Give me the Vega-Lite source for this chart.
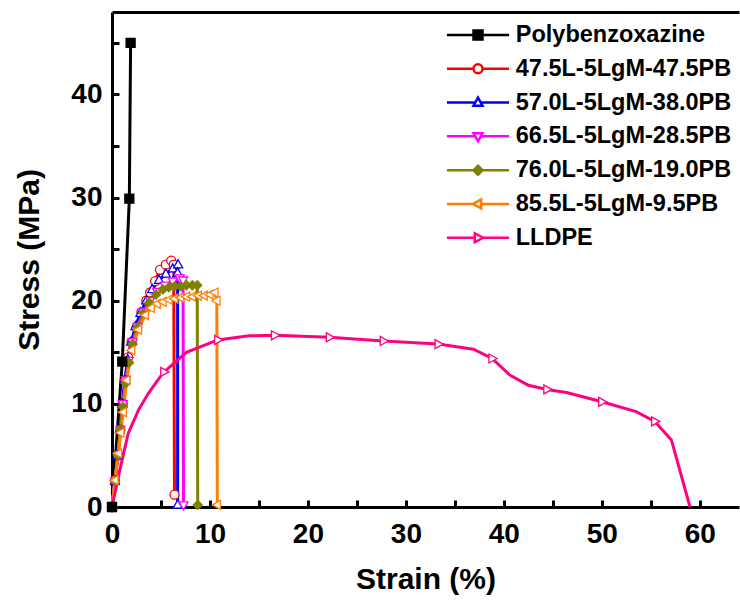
{
  "$schema": "https://vega.github.io/schema/vega-lite/v6.json",
  "width": 627,
  "height": 495,
  "autosize": "none",
  "padding": {"left": 112, "top": 12, "right": 1, "bottom": 99},
  "config": {
    "view": {"stroke": null},
    "font": "Liberation Sans",
    "axis": {
      "grid": false,
      "domainColor": "black",
      "domainWidth": 3,
      "tickColor": "black",
      "tickWidth": 3,
      "labelColor": "black",
      "labelFont": "Liberation Sans",
      "labelFontWeight": "bold",
      "labelFontSize": 28,
      "titleFont": "Liberation Sans",
      "titleFontWeight": "bold",
      "titleFontSize": 30,
      "titleColor": "black"
    }
  },
  "datasets": {
    "curves": [
      {"sample": "Polybenzoxazine", "strain": 0, "stress": 0},
      {"sample": "Polybenzoxazine", "strain": 1.05, "stress": 14.1},
      {"sample": "Polybenzoxazine", "strain": 1.77, "stress": 29.9},
      {"sample": "Polybenzoxazine", "strain": 1.9, "stress": 45.0},

      {"sample": "47.5L-5LgM-47.5PB", "strain": 0, "stress": 0},
      {"sample": "47.5L-5LgM-47.5PB", "strain": 0.3, "stress": 2.6},
      {"sample": "47.5L-5LgM-47.5PB", "strain": 0.6, "stress": 5.0},
      {"sample": "47.5L-5LgM-47.5PB", "strain": 0.85, "stress": 7.5},
      {"sample": "47.5L-5LgM-47.5PB", "strain": 1.1, "stress": 10.0},
      {"sample": "47.5L-5LgM-47.5PB", "strain": 1.35, "stress": 12.3},
      {"sample": "47.5L-5LgM-47.5PB", "strain": 1.65, "stress": 14.5},
      {"sample": "47.5L-5LgM-47.5PB", "strain": 2.0, "stress": 16.0},
      {"sample": "47.5L-5LgM-47.5PB", "strain": 2.5, "stress": 17.4},
      {"sample": "47.5L-5LgM-47.5PB", "strain": 3.0, "stress": 18.9},
      {"sample": "47.5L-5LgM-47.5PB", "strain": 3.5, "stress": 20.0},
      {"sample": "47.5L-5LgM-47.5PB", "strain": 3.9, "stress": 20.8},
      {"sample": "47.5L-5LgM-47.5PB", "strain": 4.4, "stress": 21.9},
      {"sample": "47.5L-5LgM-47.5PB", "strain": 4.9, "stress": 23.0},
      {"sample": "47.5L-5LgM-47.5PB", "strain": 5.5, "stress": 23.5},
      {"sample": "47.5L-5LgM-47.5PB", "strain": 6.05, "stress": 23.9},
      {"sample": "47.5L-5LgM-47.5PB", "strain": 6.3, "stress": 23.5},
      {"sample": "47.5L-5LgM-47.5PB", "strain": 6.38, "stress": 1.2},

      {"sample": "57.0L-5LgM-38.0PB", "strain": 0, "stress": 0},
      {"sample": "57.0L-5LgM-38.0PB", "strain": 0.3, "stress": 2.5},
      {"sample": "57.0L-5LgM-38.0PB", "strain": 0.55, "stress": 5.0},
      {"sample": "57.0L-5LgM-38.0PB", "strain": 0.8, "stress": 7.5},
      {"sample": "57.0L-5LgM-38.0PB", "strain": 1.05, "stress": 10.0},
      {"sample": "57.0L-5LgM-38.0PB", "strain": 1.3, "stress": 12.3},
      {"sample": "57.0L-5LgM-38.0PB", "strain": 1.6, "stress": 14.3},
      {"sample": "57.0L-5LgM-38.0PB", "strain": 1.95, "stress": 16.0},
      {"sample": "57.0L-5LgM-38.0PB", "strain": 2.4, "stress": 17.5},
      {"sample": "57.0L-5LgM-38.0PB", "strain": 2.9, "stress": 18.8},
      {"sample": "57.0L-5LgM-38.0PB", "strain": 3.5, "stress": 20.0},
      {"sample": "57.0L-5LgM-38.0PB", "strain": 4.1, "stress": 21.1},
      {"sample": "57.0L-5LgM-38.0PB", "strain": 4.8, "stress": 22.0},
      {"sample": "57.0L-5LgM-38.0PB", "strain": 5.5, "stress": 22.6},
      {"sample": "57.0L-5LgM-38.0PB", "strain": 6.2, "stress": 23.1},
      {"sample": "57.0L-5LgM-38.0PB", "strain": 6.75, "stress": 23.5},
      {"sample": "57.0L-5LgM-38.0PB", "strain": 6.7, "stress": 22.7},
      {"sample": "57.0L-5LgM-38.0PB", "strain": 6.7, "stress": 0.2},

      {"sample": "66.5L-5LgM-28.5PB", "strain": 0, "stress": 0},
      {"sample": "66.5L-5LgM-28.5PB", "strain": 0.3, "stress": 2.5},
      {"sample": "66.5L-5LgM-28.5PB", "strain": 0.6, "stress": 5.0},
      {"sample": "66.5L-5LgM-28.5PB", "strain": 0.85, "stress": 7.5},
      {"sample": "66.5L-5LgM-28.5PB", "strain": 1.1, "stress": 10.0},
      {"sample": "66.5L-5LgM-28.5PB", "strain": 1.4, "stress": 12.3},
      {"sample": "66.5L-5LgM-28.5PB", "strain": 1.7, "stress": 14.2},
      {"sample": "66.5L-5LgM-28.5PB", "strain": 2.1, "stress": 16.0},
      {"sample": "66.5L-5LgM-28.5PB", "strain": 2.6, "stress": 17.5},
      {"sample": "66.5L-5LgM-28.5PB", "strain": 3.2, "stress": 18.9},
      {"sample": "66.5L-5LgM-28.5PB", "strain": 3.9, "stress": 20.0},
      {"sample": "66.5L-5LgM-28.5PB", "strain": 4.6, "stress": 20.9},
      {"sample": "66.5L-5LgM-28.5PB", "strain": 5.4, "stress": 21.5},
      {"sample": "66.5L-5LgM-28.5PB", "strain": 6.2, "stress": 21.9},
      {"sample": "66.5L-5LgM-28.5PB", "strain": 6.9, "stress": 22.2},
      {"sample": "66.5L-5LgM-28.5PB", "strain": 7.25, "stress": 22.0},
      {"sample": "66.5L-5LgM-28.5PB", "strain": 7.3, "stress": 0.2},

      {"sample": "76.0L-5LgM-19.0PB", "strain": 0, "stress": 0},
      {"sample": "76.0L-5LgM-19.0PB", "strain": 0.3, "stress": 2.5},
      {"sample": "76.0L-5LgM-19.0PB", "strain": 0.6, "stress": 5.0},
      {"sample": "76.0L-5LgM-19.0PB", "strain": 0.85, "stress": 7.5},
      {"sample": "76.0L-5LgM-19.0PB", "strain": 1.1, "stress": 9.7},
      {"sample": "76.0L-5LgM-19.0PB", "strain": 1.4, "stress": 12.0},
      {"sample": "76.0L-5LgM-19.0PB", "strain": 1.75, "stress": 14.0},
      {"sample": "76.0L-5LgM-19.0PB", "strain": 2.1, "stress": 15.8},
      {"sample": "76.0L-5LgM-19.0PB", "strain": 2.6, "stress": 17.4},
      {"sample": "76.0L-5LgM-19.0PB", "strain": 3.2, "stress": 18.8},
      {"sample": "76.0L-5LgM-19.0PB", "strain": 3.8, "stress": 19.8},
      {"sample": "76.0L-5LgM-19.0PB", "strain": 4.5, "stress": 20.6},
      {"sample": "76.0L-5LgM-19.0PB", "strain": 5.2, "stress": 21.1},
      {"sample": "76.0L-5LgM-19.0PB", "strain": 5.8, "stress": 21.3},
      {"sample": "76.0L-5LgM-19.0PB", "strain": 6.4, "stress": 21.4},
      {"sample": "76.0L-5LgM-19.0PB", "strain": 7.0, "stress": 21.4},
      {"sample": "76.0L-5LgM-19.0PB", "strain": 7.6, "stress": 21.5},
      {"sample": "76.0L-5LgM-19.0PB", "strain": 8.2, "stress": 21.5},
      {"sample": "76.0L-5LgM-19.0PB", "strain": 8.7, "stress": 21.5},
      {"sample": "76.0L-5LgM-19.0PB", "strain": 8.75, "stress": 0.2},

      {"sample": "85.5L-5LgM-9.5PB", "strain": 0, "stress": 0},
      {"sample": "85.5L-5LgM-9.5PB", "strain": 0.3, "stress": 2.6},
      {"sample": "85.5L-5LgM-9.5PB", "strain": 0.65, "stress": 5.2},
      {"sample": "85.5L-5LgM-9.5PB", "strain": 0.9, "stress": 7.2},
      {"sample": "85.5L-5LgM-9.5PB", "strain": 1.15, "stress": 9.2},
      {"sample": "85.5L-5LgM-9.5PB", "strain": 1.5, "stress": 12.3},
      {"sample": "85.5L-5LgM-9.5PB", "strain": 2.0, "stress": 15.2},
      {"sample": "85.5L-5LgM-9.5PB", "strain": 2.7, "stress": 17.2},
      {"sample": "85.5L-5LgM-9.5PB", "strain": 3.4, "stress": 18.6},
      {"sample": "85.5L-5LgM-9.5PB", "strain": 4.0, "stress": 19.3},
      {"sample": "85.5L-5LgM-9.5PB", "strain": 4.6, "stress": 19.7},
      {"sample": "85.5L-5LgM-9.5PB", "strain": 5.2, "stress": 19.9},
      {"sample": "85.5L-5LgM-9.5PB", "strain": 5.8, "stress": 20.1},
      {"sample": "85.5L-5LgM-9.5PB", "strain": 6.4, "stress": 20.2},
      {"sample": "85.5L-5LgM-9.5PB", "strain": 7.0, "stress": 20.3},
      {"sample": "85.5L-5LgM-9.5PB", "strain": 7.6, "stress": 20.4},
      {"sample": "85.5L-5LgM-9.5PB", "strain": 8.2, "stress": 20.4},
      {"sample": "85.5L-5LgM-9.5PB", "strain": 8.8, "stress": 20.5},
      {"sample": "85.5L-5LgM-9.5PB", "strain": 9.4, "stress": 20.5},
      {"sample": "85.5L-5LgM-9.5PB", "strain": 10.0, "stress": 20.6},
      {"sample": "85.5L-5LgM-9.5PB", "strain": 10.5, "stress": 20.8},
      {"sample": "85.5L-5LgM-9.5PB", "strain": 10.7, "stress": 20.0},
      {"sample": "85.5L-5LgM-9.5PB", "strain": 10.75, "stress": 0.2},

      {"sample": "LLDPE", "strain": 0, "stress": 0},
      {"sample": "LLDPE", "strain": 0.8, "stress": 3.6},
      {"sample": "LLDPE", "strain": 1.66, "stress": 7.15},
      {"sample": "LLDPE", "strain": 2.7, "stress": 9.4},
      {"sample": "LLDPE", "strain": 3.7, "stress": 11.0},
      {"sample": "LLDPE", "strain": 5.2, "stress": 13.0},
      {"sample": "LLDPE", "strain": 7.6, "stress": 15.0},
      {"sample": "LLDPE", "strain": 10.8, "stress": 16.2},
      {"sample": "LLDPE", "strain": 14.0, "stress": 16.6},
      {"sample": "LLDPE", "strain": 16.6, "stress": 16.65},
      {"sample": "LLDPE", "strain": 22.2, "stress": 16.45},
      {"sample": "LLDPE", "strain": 27.7, "stress": 16.1},
      {"sample": "LLDPE", "strain": 33.3, "stress": 15.8},
      {"sample": "LLDPE", "strain": 36.9, "stress": 15.3},
      {"sample": "LLDPE", "strain": 38.8, "stress": 14.4},
      {"sample": "LLDPE", "strain": 40.6, "stress": 12.8},
      {"sample": "LLDPE", "strain": 42.5, "stress": 11.8},
      {"sample": "LLDPE", "strain": 44.4, "stress": 11.4},
      {"sample": "LLDPE", "strain": 46.4, "stress": 11.1},
      {"sample": "LLDPE", "strain": 50.0, "stress": 10.2},
      {"sample": "LLDPE", "strain": 53.5, "stress": 9.25},
      {"sample": "LLDPE", "strain": 55.4, "stress": 8.3},
      {"sample": "LLDPE", "strain": 57.1, "stress": 6.5},
      {"sample": "LLDPE", "strain": 59.0, "stress": 0}
    ],
    "lldpeMarkers": [
      {"sample": "LLDPE", "strain": 0, "stress": 0},
      {"sample": "LLDPE", "strain": 5.3, "stress": 13.1},
      {"sample": "LLDPE", "strain": 10.8, "stress": 16.2},
      {"sample": "LLDPE", "strain": 16.6, "stress": 16.65},
      {"sample": "LLDPE", "strain": 22.2, "stress": 16.45},
      {"sample": "LLDPE", "strain": 27.7, "stress": 16.1},
      {"sample": "LLDPE", "strain": 33.3, "stress": 15.8},
      {"sample": "LLDPE", "strain": 38.8, "stress": 14.4},
      {"sample": "LLDPE", "strain": 44.4, "stress": 11.4},
      {"sample": "LLDPE", "strain": 50.0, "stress": 10.2},
      {"sample": "LLDPE", "strain": 55.4, "stress": 8.3}
    ]
  },
  "resolve": {"axis": {"x": "independent"}},
  "layer": [
    {
      "data": {"name": "curves"},
      "mark": {"type": "line", "strokeWidth": 3},
      "encoding": {
        "x": {
          "field": "strain", "type": "quantitative",
          "scale": {"domain": [0, 64], "nice": false, "zero": false},
          "axis": {
            "orient": "bottom",
            "title": "Strain (%)",
            "values": [0, 5, 10, 15, 20, 25, 30, 35, 40, 45, 50, 55, 60],
            "labelExpr": "datum.value % 10 === 0 ? datum.label : ''",
            "tickSize": -7,
            "labelPadding": 20,
            "labelFlush": false,
            "labelOverlap": false,
            "titlePadding": 16
          }
        },
        "y": {
          "field": "stress", "type": "quantitative",
          "scale": {"domain": [0, 48], "nice": false},
          "axis": {
            "orient": "left",
            "title": "Stress (MPa)",
            "values": [0, 5, 10, 15, 20, 25, 30, 35, 40, 45],
            "labelExpr": "datum.value % 10 === 0 ? datum.label : ''",
            "tickSize": -7,
            "labelPadding": 17,
            "labelFlush": false,
            "labelOverlap": false,
            "titlePadding": 26
          }
        },
        "stroke": {
          "field": "sample", "type": "nominal",
          "scale": {
            "domain": ["Polybenzoxazine", "47.5L-5LgM-47.5PB", "57.0L-5LgM-38.0PB", "66.5L-5LgM-28.5PB", "76.0L-5LgM-19.0PB", "85.5L-5LgM-9.5PB", "LLDPE"],
            "range": ["#000000", "#ff0000", "#0000ff", "#ff00ff", "#808000", "#ff8000", "#ff0080"]
          },
          "legend": {
            "orient": "none",
            "legendX": 354.25,
            "legendY": 11.2,
            "title": null,
            "padding": 0,
            "labelFont": "Liberation Sans",
            "labelFontWeight": "bold",
            "labelFontSize": 23.5,
            "labelColor": "black",
            "labelLimit": 400,
            "labelOffset": 26,
            "symbolSize": 81,
            "symbolStrokeWidth": 2.5,
            "symbolOffset": 0,
            "rowPadding": 8.8,
            "encode": {
              "symbols": {
                "update": {
                  "shape": {"signal": "['M-6.9,0L-1,0M1,0L6.9,0M-1,-1L1,-1L1,1L-1,1Z','M-6.9,0L-1,0M1,0L6.9,0M-1,0A1,1 0 1,1 1,0A1,1 0 1,1 -1,0Z','M-6.9,0L-0.6,0M0.6,0L6.9,0M0,-1.1L1,0.7L-1,0.7Z','M-6.9,0L-0.6,0M0.6,0L6.9,0M0,1.1L1,-0.7L-1,-0.7Z','M-6.9,0L-1,0M1,0L6.9,0M0,-1L1,0L0,1L-1,0Z','M-6.9,0L-1.1,0M0.7,0L6.9,0M-1.1,0L0.7,-1L0.7,1Z','M-6.9,0L-0.7,0M1.1,0L6.9,0M1.1,0L-0.7,-1L-0.7,1Z'][indexof(['Polybenzoxazine','47.5L-5LgM-47.5PB','57.0L-5LgM-38.0PB','66.5L-5LgM-28.5PB','76.0L-5LgM-19.0PB','85.5L-5LgM-9.5PB','LLDPE'], datum.value)]"},
                  "fill": {"signal": "['#000000','#ffffff','#ffffff','#ffffff','#808000','#ffffff','#ffffff'][indexof(['Polybenzoxazine','47.5L-5LgM-47.5PB','57.0L-5LgM-38.0PB','66.5L-5LgM-28.5PB','76.0L-5LgM-19.0PB','85.5L-5LgM-9.5PB','LLDPE'], datum.value)]"},
                  "opacity": {"value": 1}
                }
              }
            }
          }
        },
        "order": {"value": null}
      }
    },
    {
      "data": {"name": "curves"},
      "transform": [{"filter": "datum.sample !== 'LLDPE' && datum.sample !== 'Polybenzoxazine'"}],
      "mark": {"type": "point", "filled": true, "size": 81, "strokeWidth": 1.3, "opacity": 1},
      "encoding": {
        "x": {"field": "strain", "type": "quantitative", "axis": null},
        "y": {"field": "stress", "type": "quantitative"},
        "stroke": {"field": "sample", "type": "nominal", "legend": null},
        "fill": {
          "field": "sample", "type": "nominal", "legend": null,
          "scale": {
            "domain": ["47.5L-5LgM-47.5PB", "57.0L-5LgM-38.0PB", "66.5L-5LgM-28.5PB", "76.0L-5LgM-19.0PB", "85.5L-5LgM-9.5PB", "LLDPE", "Polybenzoxazine"],
            "range": ["#ffffff", "#ffffff", "#ffffff", "#808000", "#ffffff", "#ffffff", "#000000"]
          }
        },
        "shape": {
          "field": "sample", "type": "nominal", "legend": null,
          "scale": {
            "domain": ["47.5L-5LgM-47.5PB", "57.0L-5LgM-38.0PB", "66.5L-5LgM-28.5PB", "76.0L-5LgM-19.0PB", "85.5L-5LgM-9.5PB", "LLDPE", "Polybenzoxazine"],
            "range": ["M-1,0A1,1 0 1,1 1,0A1,1 0 1,1 -1,0Z", "M0,-1.1L1,0.7H-1Z", "M0,1.1L1,-0.7H-1Z", "M0,-1L1,0L0,1L-1,0Z", "M-1.1,0L0.7,-1V1Z", "M1.1,0L-0.7,-1V1Z", "M-1,-1H1V1H-1Z"]
          }
        }
      }
    },
    {
      "data": {"name": "lldpeMarkers"},
      "mark": {"type": "point", "filled": true, "size": 81, "strokeWidth": 1.3, "opacity": 1},
      "encoding": {
        "x": {"field": "strain", "type": "quantitative", "axis": null},
        "y": {"field": "stress", "type": "quantitative"},
        "stroke": {"field": "sample", "type": "nominal", "legend": null},
        "fill": {"field": "sample", "type": "nominal", "legend": null},
        "shape": {"field": "sample", "type": "nominal", "legend": null}
      }
    },
    {
      "data": {"name": "curves"},
      "transform": [{"filter": "datum.sample === 'Polybenzoxazine'"}],
      "mark": {"type": "point", "filled": true, "size": 81, "strokeWidth": 1.3, "opacity": 1},
      "encoding": {
        "x": {
          "field": "strain", "type": "quantitative",
          "axis": {"orient": "top", "labels": false, "ticks": false, "title": null, "domainWidth": 3, "domainColor": "black"}
        },
        "y": {"field": "stress", "type": "quantitative"},
        "stroke": {"field": "sample", "type": "nominal", "legend": null},
        "fill": {"field": "sample", "type": "nominal", "legend": null},
        "shape": {"field": "sample", "type": "nominal", "legend": null}
      }
    }
  ]
}
